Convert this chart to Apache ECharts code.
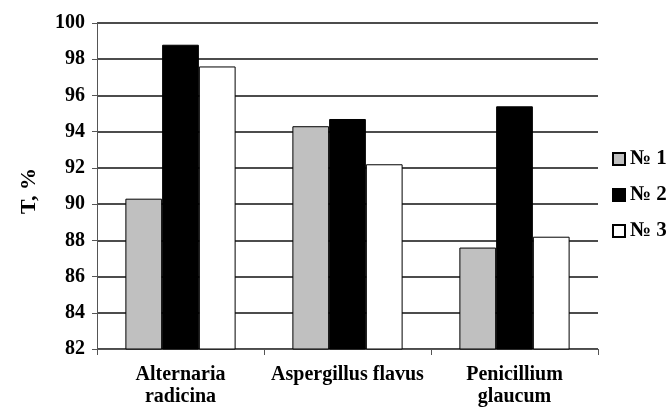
<!DOCTYPE html>
<html>
<head>
<meta charset="UTF-8">
<script src="https://cdn.jsdelivr.net/npm/echarts@6/dist/echarts.min.js"></script>
<style>
  body { margin: 0; background: #fff; }
  #main { width: 670px; height: 410px; }
</style>
</head>
<body>
<div id="main"></div>
<script>
var categories = ['Alternaria\nradicina', 'Aspergillus flavus', 'Penicillium\nglaucum'];
var seriesNames = ['№ 1', '№ 2', '№ 3'];
var s1 = [90.3, 94.3, 87.6];
var s2 = [98.8, 94.7, 95.4];
var s3 = [97.6, 92.2, 88.2];
var colors = ['#c0c0c0', '#000000', '#ffffff'];

var font = 'Liberation Serif';
var chart = echarts.init(document.getElementById('main'));

function bar(name, data, color) {
  return {
    name: name,
    type: 'bar',
    data: data,
    barGap: '0%',
    barCategoryGap: '34%',
    itemStyle: { color: color, borderColor: '#000', borderWidth: 1 }
  };
}

chart.setOption({
  animation: false,
  grid: { left: 97, right: 72, top: 23, bottom: 61 },
  legend: {
    orient: 'vertical',
    left: 607,
    top: 143,
    itemWidth: 12,
    itemHeight: 12,
    itemGap: 14,
    icon: 'rect',
    data: seriesNames,
    textStyle: { fontFamily: font, fontWeight: 'bold', fontSize: 21, color: '#000', lineHeight: 22 }
  },
  xAxis: {
    type: 'category',
    data: categories,
    axisLine: { lineStyle: { color: '#555', width: 1 } },
    axisTick: { show: true, length: 6, lineStyle: { color: '#555' } },
    axisLabel: {
      fontFamily: font, fontWeight: 'bold', fontSize: 20, color: '#000',
      margin: 15, lineHeight: 22, interval: 0
    }
  },
  yAxis: {
    type: 'value',
    min: 82,
    max: 100,
    interval: 2,
    name: 'T, %',
    nameLocation: 'middle',
    nameGap: 57,
    nameRotate: 90,
    nameTextStyle: { fontFamily: font, fontWeight: 'bold', fontSize: 22, color: '#000', padding: [0, 10, 0, 0] },
    axisLine: { show: true, lineStyle: { color: '#555', width: 1 } },
    axisTick: { show: true, length: 5, lineStyle: { color: '#555' } },
    axisLabel: { fontFamily: font, fontWeight: 'bold', fontSize: 20, color: '#000', margin: 12 },
    splitLine: { lineStyle: { color: '#111', width: 1.6 } }
  },
  series: [
    bar(seriesNames[0], s1, colors[0]),
    bar(seriesNames[1], s2, colors[1]),
    bar(seriesNames[2], s3, colors[2])
  ]
});
</script>
</body>
</html>
